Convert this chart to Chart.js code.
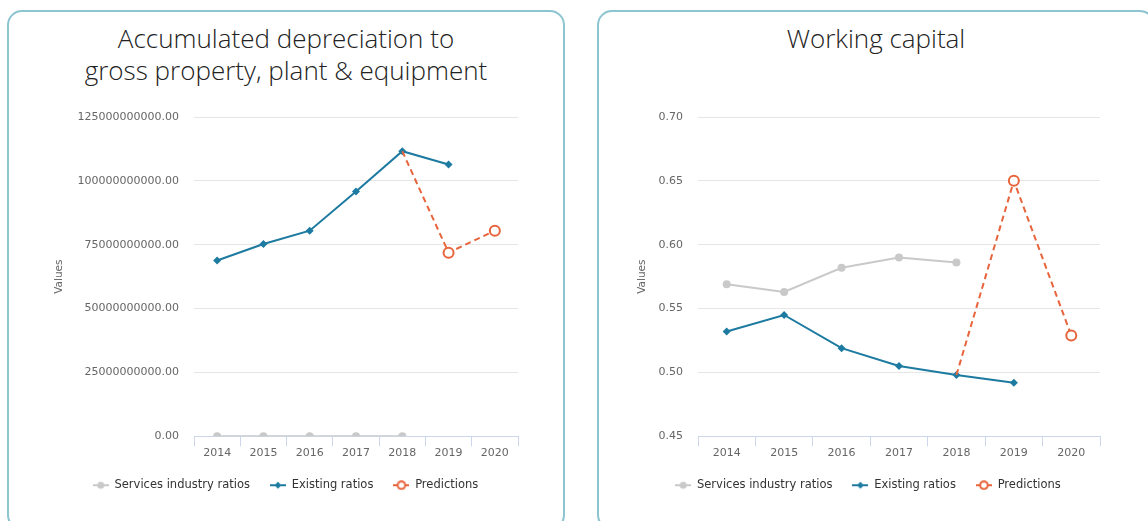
<!DOCTYPE html>
<html>
<head>
<meta charset="utf-8">
<script src="https://cdn.jsdelivr.net/npm/chart.js@4.4.0/dist/chart.umd.min.js"></script>
<style>
    body { margin: 0; background: #fff; width: 1148px; height: 521px; overflow: hidden; position: relative; }
    .card {
        position: absolute;
        top: 10px;
        width: 558px;
        height: 520px;
        border: 2px solid #8cc4cf;
        border-radius: 15px;
        box-sizing: border-box;
    }
    .card-title {
        position: absolute;
        top: 22px;
        left: 0;
        width: 100%;
        text-align: center;
        font-family: "Open Sans", sans-serif;
        font-weight: 300;
        font-size: 26px;
        line-height: 32px;
        color: #222;
    }
    canvas { position: absolute; }
</style>
</head>
<body>
<div class="card" style="left: 7px;"></div>
<div class="card" style="left: 597px;"></div>
<div class="card-title" style="left: 7px; width: 558px;">Accumulated depreciation to<br>gross property, plant &amp; equipment</div>
<div class="card-title" style="left: 597px; width: 558px;">Working capital</div>
<canvas id="depr-chart" width="552" height="430" style="left: 10px; top: 90px;"></canvas>
<canvas id="wc-chart" width="544" height="430" style="left: 600px; top: 90px;"></canvas>

<script>
// years on the x axis
const years = ['2014', '2015', '2016', '2017', '2018', '2019', '2020'];
const seriesNames = ['Services industry ratios', 'Existing ratios', 'Predictions'];

// accumulated depreciation / gross PP&E
const deprSector = [0, 0, 0, 0, 0, null, null];
const deprExisting = [68.8e9, 75.3e9, 80.5e9, 95.8e9, 111.6e9, 106.4e9, null];
const deprPredicted = [null, null, null, null, 111.6e9, 71.9e9, 80.5e9];
const deprTicks = [0, 25e9, 50e9, 75e9, 100e9, 125e9];

// working capital
const wcSector = [0.569, 0.563, 0.582, 0.590, 0.586, null, null];
const wcExisting = [0.532, 0.545, 0.519, 0.505, 0.498, 0.492, null];
const wcPredicted = [null, null, null, null, 0.498, 0.650, 0.529];
const wcTicks = [0.45, 0.50, 0.55, 0.60, 0.65, 0.70];

const GREY = '#c9c9c9';
const BLUE = '#1d7aa0';
const ORANGE = '#e8643c';

Chart.defaults.font.family = '"DejaVu Sans", sans-serif';
Chart.defaults.animation = false;

// small line + marker swatches for the legend
function legendIcon(color, shape) {
    const c = document.createElement('canvas');
    c.width = 16;
    c.height = 10;
    const g = c.getContext('2d');
    g.strokeStyle = color;
    g.lineWidth = 2;
    g.beginPath();
    g.moveTo(0, 5);
    g.lineTo(16, 5);
    g.stroke();
    g.beginPath();
    if (shape === 'diamond') {
        g.moveTo(8, 1.5); g.lineTo(11.5, 5); g.lineTo(8, 8.5); g.lineTo(4.5, 5); g.closePath();
        g.fillStyle = color;
        g.fill();
    } else if (shape === 'ring') {
        g.arc(8, 5, 3.8, 0, Math.PI * 2);
        g.fillStyle = '#fff';
        g.fill();
        g.stroke();
    } else {
        g.arc(8, 5, 3.5, 0, Math.PI * 2);
        g.fillStyle = color;
        g.fill();
    }
    return c;
}
const icons = [legendIcon(GREY, 'dot'), legendIcon(BLUE, 'diamond'), legendIcon(ORANGE, 'ring')];

function makeChart(id, sector, existing, predicted, ticks, yWidth, layoutPad) {
    const ctx = document.getElementById(id).getContext('2d');
    return new Chart(ctx, {
        type: 'line',
        data: {
            labels: years,
            datasets: [{
                label: seriesNames[0],
                data: sector,
                borderColor: GREY,
                backgroundColor: GREY,
                borderWidth: 2,
                pointRadius: 4,
                pointBorderWidth: 0,
                order: 3
            }, {
                label: seriesNames[1],
                data: existing,
                borderColor: BLUE,
                backgroundColor: BLUE,
                borderWidth: 2,
                pointStyle: 'rectRot',
                pointRadius: 4,
                pointBorderWidth: 0,
                order: 2
            }, {
                label: seriesNames[2],
                data: predicted,
                borderColor: ORANGE,
                backgroundColor: '#fff',
                borderWidth: 2,
                borderDash: [6, 4],
                pointRadius: [0, 0, 0, 0, 0, 5, 5],
                pointBorderWidth: 2,
                order: 1
            }]
        },
        options: {
            responsive: false,
            layout: { padding: layoutPad },
            plugins: {
                title: { display: false },
                tooltip: { enabled: false },
                legend: {
                    position: 'bottom',
                    labels: {
                        usePointStyle: true,
                        pointStyleWidth: 16,
                        padding: 20,
                        color: '#333',
                        font: { size: 11.5 },
                        sort: (a, b) => a.datasetIndex - b.datasetIndex,
                        generateLabels: chart =>
                            Chart.defaults.plugins.legend.labels.generateLabels(chart)
                                .map(item => ({ ...item, pointStyle: icons[item.datasetIndex] }))
                    }
                }
            },
            scales: {
                x: {
                    offset: true,
                    grid: {
                        offset: true,
                        drawOnChartArea: false,
                        tickLength: 10,
                        color: '#ccd6eb'
                    },
                    border: { display: true, color: '#ccd6eb' },
                    ticks: { color: '#666', font: { size: 11 }, padding: 0 }
                },
                y: {
                    min: ticks[0],
                    max: ticks[ticks.length - 1],
                    afterBuildTicks: axis => { axis.ticks = ticks.map(v => ({ value: v })); },
                    afterFit: axis => { axis.width = yWidth; },
                    grid: { color: '#e6e6e6', drawTicks: false },
                    border: { display: false },
                    ticks: {
                        color: '#666',
                        font: { size: 11 },
                        padding: 15,
                        callback: v => Number(v).toFixed(2)
                    },
                    title: {
                        display: true,
                        text: 'Values',
                        color: '#666',
                        font: { size: 10.5 },
                        padding: { top: 0, bottom: 0 }
                    }
                }
            }
        }
    });
}

makeChart('depr-chart', deprSector, deprExisting, deprPredicted, deprTicks, 141,
    { left: 43, right: 44, top: 27, bottom: 19 });
makeChart('wc-chart', wcSector, wcExisting, wcPredicted, wcTicks, 62,
    { left: 36, right: 44, top: 27, bottom: 19 });
</script>
</body>
</html>
